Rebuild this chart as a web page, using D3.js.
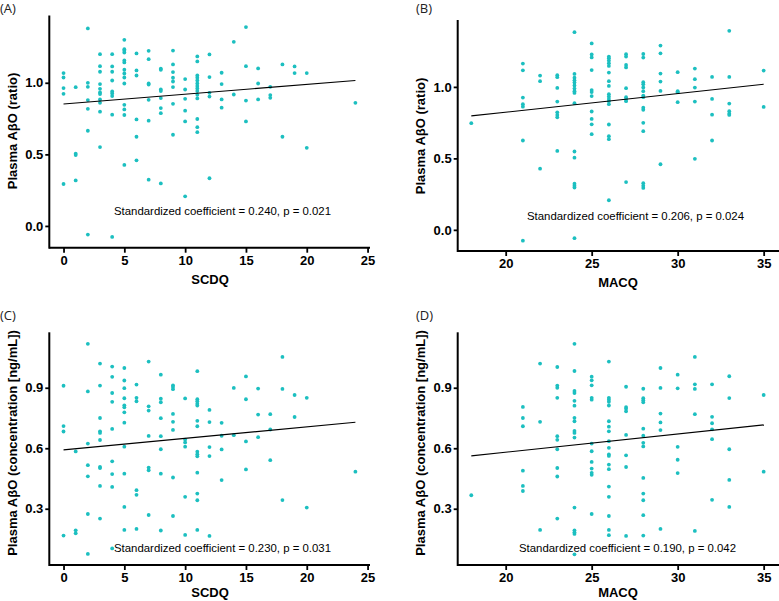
<!DOCTYPE html>
<html>
<head>
<meta charset="utf-8">
<script src="https://cdn.jsdelivr.net/npm/d3@7"></script>
<style>
html,body{margin:0;padding:0;background:#fff;}
svg{display:block;}
</style>
</head>
<body>
<svg id="chart" width="779" height="601"></svg>
<script>
// ---------- DATA ----------
const panelLabels = ["(A)", "(B)", "(C)", "(D)"];
const xTitles = ["SCDQ", "MACQ", "SCDQ", "MACQ"];
const yTitles = ["Plasma A\u03b2O (ratio)", "Plasma A\u03b2O (ratio)",
  "Plasma A\u03b2O (concentration [ng/mL])", "Plasma A\u03b2O (concentration [ng/mL])"];
const statTexts = [
  "Standardized coefficient = 0.240, p = 0.021",
  "Standardized coefficient = 0.206, p = 0.024",
  "Standardized coefficient = 0.230, p = 0.031",
  "Standardized coefficient = 0.190, p = 0.042"];
const xTicksSCDQ = [0, 5, 10, 15, 20, 25];
const xTicksMACQ = [20, 25, 30, 35];
const yTicksRatio = [0.0, 0.5, 1.0];
const yTicksConc = [0.3, 0.6, 0.9];

// points grouped by x value: [x, [y values]]
const pointsA = [
  [0, [1.068, 1.037, 0.963, 0.923, 0.293]],
  [1, [0.969, 0.505, 0.495, 0.318]],
  [2, [1.380, 1.000, 0.972, 0.879, 0.818, 0.665, -0.060]],
  [3, [1.200, 1.116, 1.077, 0.991, 0.958, 0.932, 0.921, 0.884, 0.860, 0.798, 0.551]],
  [4, [1.200, 1.114, 1.077, 1.016, 0.939, 0.925, 0.907, 0.777, -0.077]],
  [5, [1.300, 1.235, 1.223, 1.211, 1.156, 1.142, 1.091, 1.065, 1.037, 0.995, 0.846, 0.814, 0.775, 0.426]],
  [6, [1.205, 1.086, 1.051, 0.744, 0.623, 0.458]],
  [7, [1.223, 1.165, 0.995, 0.988, 0.881, 0.735, 0.323]],
  [8, [1.098, 1.091, 0.953, 0.942, 0.893, 0.823, 0.788, 0.297]],
  [9, [1.225, 1.128, 1.075, 1.035, 1.009, 0.970, 0.853, 0.637]],
  [10, [1.026, 0.953, 0.888, 0.805, 0.730, 0.207]],
  [11, [1.184, 1.149, 1.051, 1.035, 1.016, 0.995, 0.977, 0.960, 0.942, 0.916, 0.891, 0.747, 0.690, 0.655]],
  [12, [1.198, 1.040, 0.930, 0.904, 0.333]],
  [13, [1.070, 0.991, 0.884, 0.826]],
  [14, [1.286, 0.918]],
  [15, [1.389, 1.116, 0.876, 0.730]],
  [16, [1.100, 0.995, 0.884]],
  [17, [0.972, 0.914, 0.895]],
  [18, [1.128, 0.623]],
  [19, [1.114, 1.068]],
  [20, [1.068, 0.546]],
  [24, [0.860]]
];
const pointsB = [
  [18, [0.746]],
  [21, [1.163, 1.116, 0.925, 0.879, 0.862, 0.625, -0.076]],
  [22, [1.079, 1.040, 0.428]],
  [23, [1.082, 1.068, 0.993, 0.897, 0.822, 0.804, 0.787, 0.552]],
  [24, [1.383, 1.091, 1.064, 1.046, 1.030, 1.010, 0.988, 0.970, 0.958, 0.886, 0.548, 0.505, 0.323, 0.309, 0.296, -0.058]],
  [25, [1.304, 1.227, 1.206, 1.118, 0.978, 0.964, 0.936, 0.828, 0.776, 0.738, 0.669]],
  [26, [1.212, 1.200, 1.184, 1.166, 1.147, 1.100, 1.040, 1.007, 0.949, 0.932, 0.916, 0.900, 0.879, 0.737, 0.655, 0.634, 0.207]],
  [27, [1.229, 1.212, 1.154, 1.136, 0.991, 0.928, 0.912, 0.900, 0.334]],
  [28, [1.230, 1.205, 1.033, 1.018, 0.996, 0.970, 0.939, 0.928, 0.854, 0.840, 0.749, 0.690, 0.326, 0.308, 0.293]],
  [29, [1.289, 1.235, 1.093, 1.037, 0.972, 0.459]],
  [30, [1.103, 0.970, 0.963, 0.893]],
  [31, [1.128, 1.054, 0.995, 0.897, 0.497]],
  [32, [1.070, 0.916, 0.806, 0.625]],
  [33, [1.392, 1.070, 0.883, 0.830, 0.813, 0.804]],
  [35, [1.114, 0.860]]
];
const pointsC = [
  [0, [0.910, 0.710, 0.683, 0.167]],
  [1, [0.584, 0.193, 0.178]],
  [2, [1.118, 0.882, 0.623, 0.516, 0.461, 0.274, 0.076]],
  [3, [1.020, 0.911, 0.750, 0.684, 0.676, 0.641, 0.507, 0.502, 0.413, 0.251]],
  [4, [1.005, 0.954, 0.874, 0.830, 0.696, 0.535, 0.472, 0.408, 0.103]],
  [5, [0.998, 0.936, 0.898, 0.848, 0.813, 0.803, 0.778, 0.727, 0.608, 0.474, 0.309, 0.195]],
  [6, [0.916, 0.850, 0.833, 0.392, 0.369, 0.200]],
  [7, [1.030, 0.808, 0.787, 0.661, 0.504, 0.491, 0.269]],
  [8, [0.965, 0.846, 0.828, 0.749, 0.660, 0.595, 0.474, 0.192]],
  [9, [0.912, 0.904, 0.893, 0.770, 0.731, 0.691, 0.455, 0.264]],
  [10, [0.847, 0.643, 0.629, 0.608, 0.359, 0.170]],
  [11, [0.982, 0.843, 0.833, 0.821, 0.812, 0.736, 0.709, 0.583, 0.570, 0.560, 0.479, 0.375, 0.342, 0.195]],
  [12, [0.790, 0.730, 0.606, 0.561, 0.165]],
  [13, [0.726, 0.662, 0.594, 0.442]],
  [14, [0.899, 0.665]],
  [15, [0.956, 0.843, 0.634, 0.495]],
  [16, [0.896, 0.767, 0.655]],
  [17, [0.769, 0.693, 0.541]],
  [18, [1.053, 0.894, 0.343]],
  [19, [0.864, 0.755]],
  [20, [0.850, 0.306]],
  [24, [0.484]]
];
const pointsD = [
  [18, [0.367]],
  [21, [0.805, 0.750, 0.709, 0.489, 0.413, 0.388]],
  [22, [1.020, 0.731, 0.195]],
  [23, [1.003, 0.911, 0.900, 0.850, 0.660, 0.642, 0.595, 0.502, 0.460, 0.251]],
  [24, [1.118, 0.983, 0.884, 0.874, 0.835, 0.811, 0.751, 0.734, 0.686, 0.676, 0.653, 0.306, 0.193, 0.183, 0.175, 0.074]],
  [25, [0.955, 0.937, 0.912, 0.850, 0.841, 0.623, 0.585, 0.532, 0.499, 0.478, 0.468, 0.274]],
  [26, [1.030, 0.850, 0.841, 0.830, 0.812, 0.734, 0.707, 0.684, 0.635, 0.602, 0.569, 0.562, 0.519, 0.496, 0.410, 0.359, 0.264, 0.195, 0.169]],
  [27, [0.905, 0.804, 0.796, 0.783, 0.666, 0.565, 0.507, 0.165]],
  [28, [0.895, 0.848, 0.838, 0.828, 0.697, 0.662, 0.627, 0.609, 0.453, 0.375, 0.342, 0.268, 0.167]],
  [29, [0.998, 0.899, 0.772, 0.728, 0.690, 0.200]],
  [30, [0.965, 0.897, 0.607, 0.543, 0.477]],
  [31, [1.053, 0.917, 0.894, 0.769, 0.190]],
  [32, [0.917, 0.756, 0.724, 0.694, 0.645, 0.344]],
  [33, [0.957, 0.849, 0.595, 0.443, 0.309]],
  [35, [0.864, 0.484]]
];
// regression line end points [x, y]
const fitA = [[0, 0.852], [24, 1.016]];
const fitB = [[18, 0.797], [35, 1.019]];
const fitC = [[0, 0.592], [24, 0.729]];
const fitD = [[18, 0.562], [35, 0.716]];

// ---------- LAYOUT ----------
const panels = [
  {label: 0, pts: pointsA, fit: fitA, xTicks: xTicksSCDQ, yTicks: yTicksRatio, yFmt: ".1f",
   xDom: [-1.17, 25.2], yDom: [-0.152, 1.47], left: 49.3, right: 370, top: 15.5, bottom: 247.7,
   lab: [0, 13], stat: [114, 215], xt: [210, 284], yt: [12, 131]},
  {label: 1, pts: pointsB, fit: fitB, xTicks: xTicksMACQ, yTicks: yTicksRatio, yFmt: ".1f",
   xDom: [17.21, 35.95], yDom: [-0.148, 1.468], left: 457.7, right: 780, top: 20, bottom: 251,
   lab: [416, 13], stat: [527, 220], xt: [618, 287], yt: [420, 136]},
  {label: 2, pts: pointsC, fit: fitC, xTicks: xTicksSCDQ, yTicks: yTicksConc, yFmt: ".1f",
   xDom: [-1.17, 25.2], yDom: [0.021, 1.175], left: 49.3, right: 370, top: 332.3, bottom: 565,
   lab: [0, 320], stat: [114, 552], xt: [210, 596.5], yt: [12, 443]},
  {label: 3, pts: pointsD, fit: fitD, xTicks: xTicksMACQ, yTicks: yTicksConc, yFmt: ".1f",
   xDom: [17.21, 35.95], yDom: [0.021, 1.175], left: 457.7, right: 780, top: 332.3, bottom: 565,
   lab: [416, 320], stat: [519, 552], xt: [618, 596.5], yt: [420, 443]}
];

const svg = d3.select("#chart");
const dotColor = "#1cbfc0";
const sans = "'Liberation Sans', Arial, sans-serif";

panels.forEach((p, i) => {
  const x = d3.scaleLinear().domain(p.xDom).range([p.left, p.right]);
  const y = d3.scaleLinear().domain(p.yDom).range([p.bottom, p.top]);
  const g = svg.append("g");

  // panel label
  g.append("text").attr("x", p.lab[0]).attr("y", p.lab[1])
    .attr("font-family", "'Open Sans', sans-serif").attr("font-size", 13)
    .attr("fill", "#222").text(panelLabels[p.label]);

  // axes
  const xAxis = d3.axisBottom(x).tickValues(p.xTicks).tickSize(5).tickPadding(3).tickFormat(d3.format("d"));
  const yAxis = d3.axisLeft(y).tickValues(p.yTicks).tickSize(4).tickPadding(2).tickFormat(d3.format(p.yFmt));
  const gx = g.append("g").attr("transform", `translate(0,${p.bottom})`).call(xAxis);
  const gy = g.append("g").attr("transform", `translate(${p.left},0)`).call(yAxis);
  [gx, gy].forEach(a => {
    a.select(".domain").attr("stroke", "#000").attr("stroke-width", 2);
    a.selectAll(".tick line").attr("stroke", "#000").attr("stroke-width", 1.8);
    a.selectAll(".tick text").attr("font-family", sans).attr("font-size", 13)
      .attr("font-weight", "bold").attr("fill", "#000");
  });
  // axes meet in an L
  gx.select(".domain").attr("d", `M${p.left},0H${p.right}`);
  gy.select(".domain").attr("d", `M0,${p.top}V${p.bottom + 1}`);

  // points
  const flat = [];
  p.pts.forEach(([xv, ys]) => ys.forEach(yv => flat.push([xv, yv])));
  g.append("g").selectAll("circle").data(flat).join("circle")
    .attr("cx", d => x(d[0])).attr("cy", d => y(d[1])).attr("r", 1.9)
    .attr("fill", dotColor);

  // regression line
  g.append("path").datum(p.fit)
    .attr("d", d3.line().x(d => x(d[0])).y(d => y(d[1])))
    .attr("stroke", "#000").attr("stroke-width", 1.1).attr("fill", "none");

  // stat text
  g.append("text").attr("x", p.stat[0]).attr("y", p.stat[1])
    .attr("font-family", sans).attr("font-size", 11.4).attr("fill", "#000")
    .text(statTexts[i]);

  // axis titles
  g.append("text").attr("x", p.xt[0]).attr("y", p.xt[1]).attr("text-anchor", "middle")
    .attr("font-family", sans).attr("font-size", 13).attr("font-weight", "bold")
    .attr("fill", "#000").text(xTitles[i]);
  g.append("text").attr("transform", `translate(${p.yt[0] + 4.5},${p.yt[1]}) rotate(-90)`)
    .attr("text-anchor", "middle")
    .attr("font-family", sans).attr("font-size", 13).attr("font-weight", "bold")
    .attr("fill", "#000").text(yTitles[i]);
});
</script>
</body>
</html>
